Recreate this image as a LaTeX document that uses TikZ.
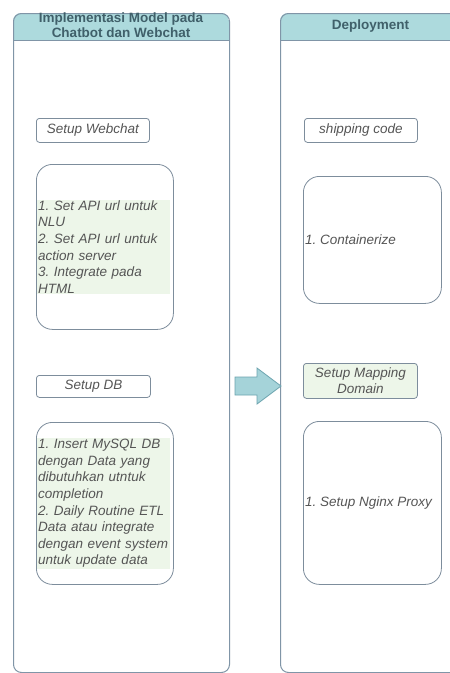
\documentclass[tikz,border=0pt]{standalone}
\usepackage{fontspec}
\setmainfont{Liberation Sans}
\frenchspacing
\definecolor{lanestroke}{HTML}{8095A7}
\definecolor{headfill}{HTML}{ADDADD}
\definecolor{headtext}{HTML}{40606A}
\definecolor{boxstroke}{HTML}{7D8D9C}
\definecolor{itemcol}{HTML}{555555}
\definecolor{hl}{HTML}{EDF6E9}
\definecolor{arrfill}{HTML}{A5D3D9}
\definecolor{arrstroke}{HTML}{6CA4AF}
\begin{document}
\begin{tikzpicture}[x=1pt,y=-1pt,
  lane/.style={draw=lanestroke, line width=1pt, rounded corners=8pt, anchor=north west, inner sep=0pt},
  headtext/.style={font=\fontsize{13.5}{15}\selectfont\bfseries, text=headtext, align=center, inner sep=0pt},
  smallbox/.style={draw=boxstroke, line width=0.8pt, rounded corners=3pt, anchor=north west, inner sep=0pt,
    font=\fontsize{13.5}{16}\selectfont\itshape, text=itemcol, align=center},
  bigbox/.style={draw=boxstroke, line width=0.8pt, rounded corners=16pt, anchor=north west, inner sep=0pt},
  itemtext/.style={font=\fontsize{13.5}{16.6}\selectfont\itshape, text=itemcol, align=left, inner sep=1pt, anchor=west},
  arrowstyle/.style={fill=arrfill, draw=arrstroke, line width=0.8pt, line join=miter}
]
\useasboundingbox (0,0) rectangle (450,673);
\clip (0,0) rectangle (450,673);
\fill[white] (0,0) rectangle (450,673);

% header fills
\begin{scope}
  \clip[rounded corners=8pt] (13,13) rectangle (229,672);
  \fill[headfill] (13,13) rectangle (229,40);
\end{scope}
\begin{scope}
  \clip[rounded corners=8pt] (280,13) rectangle (461,672);
  \fill[headfill] (280,13) rectangle (461,40);
\end{scope}

% lanes
\node[lane, minimum width=216pt, minimum height=659pt] (laneL) at (13,13) {};
\node[lane, minimum width=181pt, minimum height=659pt] (laneR) at (280,13) {};
\coordinate (sepL1) at (13,40);
\coordinate (sepL2) at (229,40);
\coordinate (sepR1) at (280,40);
\coordinate (sepR2) at (461,40);
\draw[lanestroke, line width=1pt] (sepL1) -- (sepL2);
\draw[lanestroke, line width=1pt] (sepR1) -- (sepR2);

\node[headtext] (titleL) at (121,25.5) {Implementasi Model pada\\Chatbot dan Webchat};
\node[headtext] (titleR) at (370.5,26.5) {Deployment};

% left lane content
\node[smallbox, minimum width=113pt, minimum height=24pt] (wsmall) at (36,118) {Setup Webchat};
\node[bigbox, minimum width=137pt, minimum height=165pt] (wbox) at (36,164) {};
\node[itemtext, fill=hl, text width=131pt] (wtext) at ([xshift=1pt]wbox.west) {1. Set API url untuk\\NLU\\2. Set API url untuk\\action server\\3. Integrate pada\\HTML};

\node[smallbox, minimum width=114pt, minimum height=22pt] (dbsmall) at (36,375) {Setup DB};
\node[bigbox, minimum width=137pt, minimum height=162pt] (dbbox) at (36,422) {};
\node[itemtext, fill=hl, text width=131pt] (dbtext) at ([xshift=1pt]dbbox.west) {1. Insert MySQL DB\\dengan Data yang\\dibutuhkan utntuk\\completion\\2. Daily Routine ETL\\Data atau integrate\\dengan event system\\untuk update data};

% right lane content
\node[smallbox, minimum width=113pt, minimum height=24pt] (ship) at (304,118) {shipping code};
\node[bigbox, minimum width=138pt, minimum height=127pt] (cbox) at (303,176) {};
\node[itemtext] (ctext) at ([xshift=1pt]cbox.west) {1. Containerize};

\node[smallbox, fill=hl, minimum width=114pt, minimum height=35pt] (mapd) at (303,363) {Setup Mapping\\Domain};
\node[bigbox, minimum width=138pt, minimum height=163pt] (nbox) at (303,421) {};
\node[itemtext] (ntext) at ([xshift=1pt]nbox.west) {1. Setup Nginx Proxy};

% big arrow between lanes
\draw[arrowstyle] (235,377) -- (257,377) -- (257,368) -- (281,386) -- (257,404) -- (257,395) -- (235,395) -- cycle;
\end{tikzpicture}
\end{document}
